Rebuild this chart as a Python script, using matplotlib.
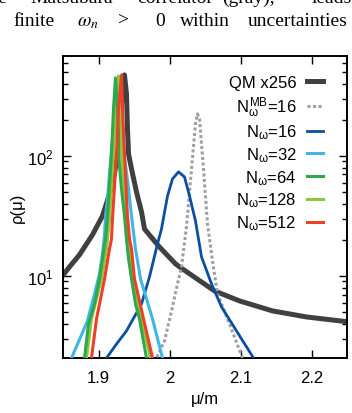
import numpy as np
import matplotlib
matplotlib.use('Agg')
import matplotlib.pyplot as plt
from matplotlib.ticker import LogLocator, NullFormatter

plt.rcParams['font.family'] = ['Liberation Sans', 'DejaVu Sans']
plt.rcParams['mathtext.fontset'] = 'custom'
plt.rcParams['mathtext.rm'] = 'Liberation Sans'
plt.rcParams['mathtext.it'] = 'Liberation Sans'
plt.rcParams['mathtext.bf'] = 'Liberation Sans:bold'

# values (mu/m, rho)
qm_x = [1.848, 1.8592, 1.8732, 1.8915, 1.9056, 1.9155, 1.9225, 1.9282, 1.931, 1.9338,
        1.9366, 1.9394, 1.9408, 1.9423, 1.9465, 1.9535, 1.9606, 1.9648, 1.9859, 2.0085,
        2.0141, 2.0634, 2.0986, 2.1451, 2.193, 2.252]
qm_y = [9.8, 11.9, 15.0, 22.0, 31.6, 48.2, 70.8, 114, 203, 362,
        473, 329, 168, 104, 77.9, 50.1, 34.1, 24.6, 17.4, 12.6,
        11.9, 7.5, 6.19, 5.11, 4.55, 4.14]

mb16_x = [1.980, 1.9817, 1.993, 2.0042, 2.0113, 2.0169, 2.0239, 2.031, 2.0366, 2.0394,
          2.0423, 2.0479, 2.0535, 2.0606, 2.0676, 2.0845, 2.1028, 2.104]
mb16_y = [1.9, 2.07, 2.87, 5.52, 8.58, 11.9, 25.6, 77.9, 185, 224,
          203, 77.9, 27.1, 13.3, 7.08, 3.98, 2.07, 1.9]

n16_x = [1.909, 1.9113, 1.9254, 1.9394, 1.9606, 1.9718, 1.9831, 1.9887, 1.9972, 2.0042,
         2.0127, 2.0211, 2.0282, 2.0366, 2.0451, 2.0592, 2.0732, 2.0944, 2.1183, 2.120]
n16_y = [1.9, 2.07, 2.71, 3.48, 5.84, 9.81, 18.5, 24.6, 46.4, 64.3,
         73.6, 66.8, 46.4, 28.7, 14.4, 8.58, 5.52, 3.48, 2.07, 1.9]

n32_x = [1.860, 1.862, 1.8718, 1.8845, 1.8944, 1.9014, 1.9056, 1.9085, 1.9099, 1.9127,
         1.9183, 1.9268, 1.9352, 1.9423, 1.9465, 1.9521, 1.9592, 1.9761, 1.9901, 1.991]
n32_y = [1.9, 2.07, 2.82, 4.22, 7.08, 10.4, 15.3, 22.4, 31.6, 43.8,
         114, 329, 114, 53.1, 31.6, 16.8, 9.44, 4.38, 2.07, 1.9]

n64_x = [1.878, 1.8803, 1.8859, 1.8944, 1.9014, 1.9056, 1.9099, 1.9127, 1.9155, 1.9183,
         1.9211, 1.9239, 1.9268, 1.9282, 1.9324, 1.9366, 1.9394, 1.9423, 1.9465, 1.9521,
         1.9577, 1.9676, 1.970]
n64_y = [1.9, 2.07, 3.98, 5.84, 9.44, 13.9, 20.3, 31.6, 58.4, 104,
         246, 447, 246, 104, 53, 31.6, 20.3, 13.9, 9.44, 5.84,
         4.38, 2.07, 1.9]

n128_x = [1.881, 1.8831, 1.8901, 1.9042, 1.9113, 1.9155, 1.9211, 1.9246, 1.9282, 1.931,
          1.9324, 1.9387, 1.9415, 1.9437, 1.9486, 1.9606, 1.9732, 1.975]
n128_y = [1.9, 2.07, 4.38, 9.44, 16.8, 29.9, 104, 246, 464, 246,
          104, 31.6, 20.3, 16.8, 9.44, 4.38, 2.07, 1.9]

n512_x = [1.888, 1.8901, 1.8972, 1.9085, 1.9155, 1.9183, 1.9197, 1.9254, 1.9282, 1.9324,
          1.9338, 1.9366, 1.9408, 1.9437, 1.9465, 1.9507, 1.9634, 1.9761, 1.978]
n512_y = [1.9, 2.07, 4.38, 9.44, 16.8, 20.3, 29.9, 104, 246, 473,
          246, 104, 31.6, 20.3, 16.8, 9.44, 4.38, 2.07, 1.9]

x_ticks = [1.9, 2.0, 2.1, 2.2]
x_ticklabels = ['1.9', '2', '2.1', '2.2']
y_ticks = [10, 100]
y_ticklabels = ['$10^1$', '$10^2$']

fig = plt.figure(figsize=(3.52, 4.14), dpi=100)
ax = fig.add_axes([63 / 352, 55 / 414, 284 / 352, 302 / 414])

l_qm, = ax.plot(qm_x, qm_y, color='#404040', lw=3.6, label='QM x256', zorder=2)
l_mb, = ax.plot(mb16_x, mb16_y, color='#a0a0a0', lw=2.2, ls=(0, (1, 0.8)),
                label=r'$N_{\omega}^{MB}$=16', zorder=3)
l_16, = ax.plot(n16_x, n16_y, color='#0b4ea2', lw=2.0, label=r'$N_{\omega}$=16', zorder=4)
l_32, = ax.plot(n32_x, n32_y, color='#3fb6e6', lw=2.2, label=r'$N_{\omega}$=32', zorder=5)
l_128, = ax.plot(n128_x, n128_y, color='#8cc63f', lw=2.2, label=r'$N_{\omega}$=128', zorder=6)
l_64, = ax.plot(n64_x, n64_y, color='#2ea84a', lw=2.2, label=r'$N_{\omega}$=64', zorder=7)
l_512, = ax.plot(n512_x, n512_y, color='#ee4026', lw=2.2, label=r'$N_{\omega}$=512', zorder=8)

ax.set_yscale('log')
ax.set_xlim(1.85, 2.25)
ax.set_ylim(2.07, 680)
ax.set_xticks(x_ticks)
ax.set_xticklabels(x_ticklabels)
ax.set_yticks(y_ticks)
ax.set_yticklabels(y_ticklabels)
ax.yaxis.set_minor_locator(LogLocator(base=10, subs=np.arange(2, 10)))
ax.yaxis.set_minor_formatter(NullFormatter())
ax.minorticks_on()
ax.xaxis.set_minor_locator(plt.NullLocator())

ax.tick_params(which='both', direction='in', top=True, right=True, labelsize=12, width=1)
ax.tick_params(which='major', length=6)
ax.tick_params(which='minor', length=3.5)
ax.tick_params(axis='x', pad=9)
ax.tick_params(axis='y', pad=7)
for s in ax.spines.values():
    s.set_linewidth(1.4)

ax.set_xlabel('μ/m', fontsize=12, labelpad=4)
ax.set_ylabel('ρ(μ)', fontsize=12, labelpad=1)

ax.legend(handles=[l_qm, l_mb, l_16, l_32, l_64, l_128, l_512], loc='upper right',
          bbox_to_anchor=(0.955, 0.975), frameon=False, fontsize=12, markerfirst=False,
          handlelength=0.95, handletextpad=0.6, labelspacing=0.24, borderpad=0.2)

# caption text from the page above the figure
line1 = [('the', 8), ('Matsubara', 30), ('correlator', 137), ('(gray),', 222), ('leads', 312)]
line2 = [('finite', 13), (r'$\omega_n$', 77), ('>', 118), ('0', 155), ('within', 180), ('uncertainties', 248)]
for word, px in line1:
    ha = 'right' if word == 'the' else 'left'
    fig.text(px / 352, 1 - 3 / 414, word, family='Liberation Serif', fontsize=14, va='baseline', ha=ha)
for word, px in line2:
    fig.text(px / 352, 1 - 26 / 414, word, family='Liberation Serif', fontsize=14, va='baseline',
             math_fontfamily='stix')

fig.savefig('out.png', dpi=100)
